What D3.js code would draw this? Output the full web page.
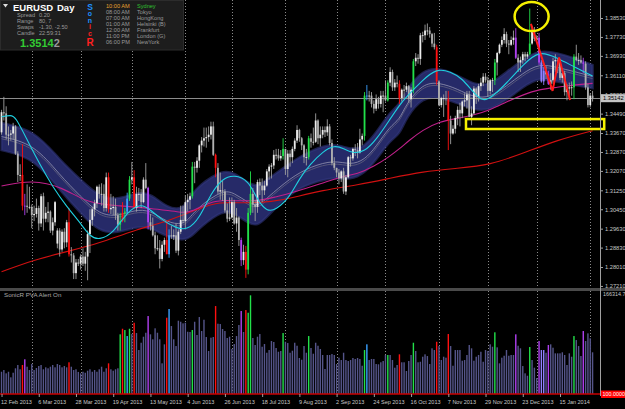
<!DOCTYPE html>
<html><head><meta charset="utf-8">
<script src="https://cdn.jsdelivr.net/npm/d3@7"></script>
<style>
html,body{margin:0;padding:0;background:#000;overflow:hidden;}
svg{display:block;}
text{font-family:"Liberation Sans",Arial,sans-serif;}
</style></head><body>
<svg id="c" width="625" height="409"></svg>
<script>
// ---------- DATA (EURUSD, Daily, 12 Feb 2013 - 4 Feb 2014) ----------
const open = [
1.3370,1.3455,1.3450,1.3360,1.3360,1.3365,1.3395,1.3280,1.3190,1.3190,
1.3060,1.3060,1.3055,1.3055,1.3020,1.3025,1.3050,1.2985,1.3100,1.3005,
1.3030,1.3035,1.2955,1.2990,1.2900,1.2955,1.2875,1.2950,1.2905,1.2990,
1.2855,1.2850,1.2775,1.2820,1.2815,1.2845,1.2815,1.2845,1.2940,1.3000,
1.3045,1.3070,1.3140,1.3110,1.3110,1.3050,1.3180,1.3045,1.3050,1.3055,
1.3020,1.2980,1.2995,1.3030,1.3035,1.3090,1.3170,1.3180,1.3050,1.3110,
1.3110,1.3075,1.3170,1.3135,1.2990,1.2975,1.2935,1.2880,1.2880,1.2835,
1.2895,1.2915,1.2855,1.2935,1.2930,1.2935,1.2870,1.2950,1.3000,1.2995,
1.3075,1.3085,1.3100,1.3225,1.3220,1.3250,1.3315,1.3335,1.3345,1.3350,
1.3360,1.3395,1.3275,1.3220,1.3120,1.3125,1.3120,1.3040,1.3005,1.3010,
1.3075,1.2985,1.3010,1.2915,1.2830,1.2865,1.2790,1.3030,1.3110,1.3065,
1.3055,1.3160,1.3145,1.3125,1.3145,1.3205,1.3225,1.3230,1.3275,1.3275,
1.3260,1.3270,1.3300,1.3215,1.3280,1.3265,1.3300,1.3335,1.3380,1.3345,
1.3315,1.3265,1.3265,1.3345,1.3330,1.3330,1.3420,1.3345,1.3360,1.3380,
1.3370,1.3395,1.3325,1.3240,1.3220,1.3200,1.3175,1.3205,1.3120,1.3180,
1.3265,1.3260,1.3300,1.3295,1.3285,1.3340,1.3355,1.3525,1.3525,1.3525,
1.3490,1.3470,1.3510,1.3490,1.3525,1.3525,1.3505,1.3580,1.3625,1.3560,
1.3580,1.3575,1.3515,1.3550,1.3550,1.3565,1.3510,1.3550,1.3670,1.3685,
1.3680,1.3780,1.3780,1.3800,1.3800,1.3785,1.3745,1.3730,1.3585,1.3485,
1.3515,1.3515,1.3510,1.3420,1.3365,1.3385,1.3430,1.3465,1.3450,1.3500,
1.3505,1.3530,1.3435,1.3450,1.3555,1.3520,1.3565,1.3580,1.3605,1.3590,
1.3545,1.3590,1.3590,1.3665,1.3705,1.3740,1.3760,1.3785,1.3745,1.3740,
1.3760,1.3770,1.3685,1.3665,1.3675,1.3700,1.3690,1.3700,1.3745,1.3800,
1.3765,1.3770,1.3665,1.3585,1.3630,1.3615,1.3575,1.3590,1.3670,1.3675,
1.3670,1.3600,1.3620,1.3540,1.3555,1.3560,1.3560,1.3690,1.3675,1.3675,
1.3665,1.3660,1.3560,1.3485,1.3525];
const high = [
1.3465,1.3520,1.3480,1.3395,1.3380,1.3410,1.3400,1.3290,1.3235,1.3320,
1.3110,1.3150,1.3140,1.3065,1.3060,1.3090,1.3060,1.3110,1.3115,1.3055,
1.3075,1.3040,1.3010,1.3080,1.2965,1.2965,1.2960,1.2965,1.3000,1.3050,
1.2885,1.2860,1.2835,1.2835,1.2855,1.2880,1.2865,1.2955,1.3045,1.3055,
1.3085,1.3145,1.3150,1.3155,1.3150,1.3200,1.3200,1.3110,1.3100,1.3090,
1.3030,1.3030,1.3075,1.3050,1.3115,1.3185,1.3245,1.3210,1.3140,1.3135,
1.3130,1.3180,1.3240,1.3140,1.3025,1.3010,1.2950,1.2935,1.2915,1.2910,
1.2925,1.2995,1.2960,1.2975,1.2960,1.2985,1.2960,1.3060,1.3060,1.3105,
1.3110,1.3115,1.3245,1.3245,1.3265,1.3320,1.3350,1.3390,1.3390,1.3395,
1.3415,1.3415,1.3280,1.3240,1.3200,1.3165,1.3130,1.3070,1.3095,1.3095,
1.3085,1.3050,1.3015,1.2925,1.2895,1.2890,1.3050,1.3205,1.3135,1.3085,
1.3170,1.3175,1.3175,1.3165,1.3215,1.3235,1.3240,1.3295,1.3300,1.3300,
1.3295,1.3345,1.3300,1.3295,1.3295,1.3310,1.3345,1.3400,1.3385,1.3350,
1.3320,1.3300,1.3355,1.3365,1.3390,1.3450,1.3425,1.3395,1.3395,1.3395,
1.3425,1.3405,1.3340,1.3265,1.3220,1.3215,1.3210,1.3220,1.3190,1.3270,
1.3275,1.3305,1.3320,1.3325,1.3385,1.3365,1.3540,1.3570,1.3545,1.3540,
1.3505,1.3530,1.3520,1.3545,1.3545,1.3590,1.3590,1.3645,1.3635,1.3595,
1.3610,1.3590,1.3555,1.3570,1.3580,1.3570,1.3560,1.3680,1.3705,1.3700,
1.3790,1.3795,1.3825,1.3830,1.3815,1.3790,1.3790,1.3740,1.3590,1.3520,
1.3530,1.3545,1.3545,1.3440,1.3400,1.3440,1.3480,1.3495,1.3505,1.3535,
1.3545,1.3545,1.3480,1.3565,1.3560,1.3575,1.3600,1.3620,1.3620,1.3605,
1.3595,1.3600,1.3680,1.3710,1.3745,1.3775,1.3810,1.3795,1.3760,1.3775,
1.3800,1.3810,1.3700,1.3690,1.3710,1.3710,1.3710,1.3893,1.3820,1.3815,
1.3780,1.3790,1.3675,1.3645,1.3650,1.3630,1.3620,1.3685,1.3700,1.3680,
1.3680,1.3630,1.3630,1.3575,1.3580,1.3585,1.3700,1.3740,1.3705,1.3695,
1.3685,1.3670,1.3575,1.3535,1.3545];
const low = [
1.3360,1.3420,1.3340,1.3315,1.3335,1.3340,1.3275,1.3160,1.3165,1.3040,
1.3020,1.3030,1.3045,1.2965,1.2995,1.3010,1.2955,1.2970,1.2955,1.2990,
1.2990,1.2945,1.2935,1.2975,1.2880,1.2845,1.2865,1.2880,1.2885,1.2845,
1.2820,1.2750,1.2750,1.2805,1.2790,1.2805,1.2785,1.2745,1.2860,1.2975,
1.3015,1.3050,1.3090,1.3060,1.3035,1.3035,1.3030,1.3025,1.3020,1.3000,
1.2955,1.2955,1.2990,1.2990,1.3025,1.3080,1.3150,1.3045,1.3035,1.3080,
1.3050,1.3070,1.3130,1.2960,1.2955,1.2930,1.2855,1.2870,1.2795,1.2825,
1.2865,1.2855,1.2840,1.2920,1.2915,1.2860,1.2850,1.2940,1.2985,1.2960,
1.3035,1.3045,1.3090,1.3155,1.3200,1.3220,1.3285,1.3310,1.3305,1.3330,
1.3340,1.3270,1.3180,1.3110,1.3085,1.3080,1.3030,1.2990,1.2995,1.3005,
1.2980,1.2950,1.2890,1.2805,1.2810,1.2755,1.2770,1.3020,1.3030,1.2995,
1.3030,1.3105,1.3075,1.3105,1.3140,1.3170,1.3175,1.3215,1.3255,1.3250,
1.3250,1.3255,1.3190,1.3180,1.3225,1.3240,1.3290,1.3325,1.3330,1.3295,
1.3240,1.3230,1.3255,1.3305,1.3315,1.3325,1.3320,1.3310,1.3345,1.3350,
1.3355,1.3315,1.3230,1.3210,1.3180,1.3150,1.3160,1.3110,1.3105,1.3175,
1.3225,1.3250,1.3270,1.3260,1.3280,1.3315,1.3335,1.3505,1.3500,1.3475,
1.3450,1.3460,1.3470,1.3475,1.3455,1.3500,1.3500,1.3565,1.3545,1.3545,
1.3560,1.3490,1.3500,1.3515,1.3540,1.3495,1.3475,1.3535,1.3650,1.3660,
1.3655,1.3750,1.3760,1.3780,1.3770,1.3730,1.3720,1.3570,1.3480,1.3475,
1.3435,1.3485,1.3295,1.3320,1.3360,1.3365,1.3400,1.3395,1.3430,1.3480,
1.3470,1.3435,1.3400,1.3445,1.3490,1.3500,1.3545,1.3565,1.3580,1.3520,
1.3530,1.3540,1.3570,1.3610,1.3700,1.3730,1.3745,1.3730,1.3700,1.3735,
1.3740,1.3680,1.3625,1.3625,1.3660,1.3670,1.3680,1.3695,1.3740,1.3755,
1.3755,1.3655,1.3580,1.3570,1.3595,1.3570,1.3550,1.3575,1.3625,1.3620,
1.3590,1.3580,1.3525,1.3505,1.3510,1.3525,1.3510,1.3670,1.3655,1.3660,
1.3620,1.3550,1.3475,1.3475,1.3500];
const close = [
1.3455,1.3450,1.3360,1.3360,1.3365,1.3395,1.3280,1.3190,1.3190,1.3060,
1.3060,1.3055,1.3055,1.3020,1.3025,1.3050,1.2985,1.3100,1.3005,1.3030,
1.3035,1.2955,1.2990,1.3075,1.2955,1.2875,1.2950,1.2905,1.2990,1.2855,
1.2850,1.2775,1.2820,1.2815,1.2845,1.2815,1.2845,1.2940,1.3000,1.3045,
1.3070,1.3140,1.3110,1.3110,1.3050,1.3180,1.3045,1.3050,1.3055,1.3020,
1.2980,1.2995,1.3030,1.3035,1.3090,1.3170,1.3180,1.3050,1.3110,1.3110,
1.3075,1.3170,1.3135,1.2990,1.2975,1.2935,1.2880,1.2880,1.2835,1.2895,
1.2915,1.2855,1.2935,1.2930,1.2935,1.2870,1.2950,1.3000,1.2995,1.3075,
1.3085,1.3100,1.3225,1.3220,1.3250,1.3315,1.3335,1.3345,1.3350,1.3360,
1.3395,1.3275,1.3220,1.3120,1.3125,1.3120,1.3040,1.3005,1.3010,1.3075,
1.2985,1.3010,1.2915,1.2830,1.2865,1.2790,1.3030,1.3110,1.3065,1.3055,
1.3160,1.3145,1.3125,1.3145,1.3205,1.3225,1.3230,1.3275,1.3275,1.3260,
1.3270,1.3300,1.3215,1.3280,1.3265,1.3300,1.3335,1.3380,1.3345,1.3315,
1.3265,1.3265,1.3345,1.3330,1.3330,1.3420,1.3345,1.3360,1.3380,1.3370,
1.3395,1.3325,1.3240,1.3220,1.3200,1.3175,1.3205,1.3120,1.3180,1.3265,
1.3260,1.3300,1.3295,1.3285,1.3340,1.3355,1.3525,1.3525,1.3525,1.3490,
1.3470,1.3510,1.3490,1.3525,1.3525,1.3505,1.3580,1.3625,1.3560,1.3580,
1.3575,1.3515,1.3550,1.3550,1.3565,1.3510,1.3550,1.3670,1.3685,1.3680,
1.3780,1.3780,1.3800,1.3800,1.3785,1.3745,1.3730,1.3585,1.3485,1.3515,
1.3515,1.3510,1.3420,1.3365,1.3385,1.3430,1.3465,1.3450,1.3500,1.3505,
1.3530,1.3435,1.3450,1.3555,1.3520,1.3565,1.3580,1.3605,1.3590,1.3545,
1.3590,1.3590,1.3665,1.3705,1.3740,1.3760,1.3785,1.3745,1.3740,1.3760,
1.3770,1.3685,1.3665,1.3675,1.3700,1.3690,1.3700,1.3745,1.3800,1.3765,
1.3770,1.3665,1.3585,1.3630,1.3615,1.3575,1.3590,1.3670,1.3675,1.3670,
1.3600,1.3620,1.3540,1.3555,1.3560,1.3560,1.3690,1.3675,1.3675,1.3665,
1.3660,1.3560,1.3485,1.3525,1.3514];
const volume = [
36300,39100,33700,36300,27200,34700,41900,47300,40300,47300,
56600,44500,39100,48900,39100,42400,45600,47300,40300,43500,
41900,44500,47300,43500,48900,47300,43500,45600,43500,51700,
44500,39100,40300,36000,33700,36300,34700,38000,40300,36300,
39100,36300,40300,44500,36300,41900,50000,40300,38000,40300,
41900,97300,106400,104300,94500,106400,97800,116200,99400,71700,
83600,93400,99900,127100,97300,89200,107100,99900,89200,50000,
81000,124400,138600,110800,89200,78200,119500,117800,115200,116200,
101500,101100,104300,117800,96200,125500,102700,121100,92900,70100,
91800,92900,143400,114600,114100,106000,102700,91300,93400,73400,
81500,94500,112500,135300,101100,136900,132500,160900,91300,79900,
93400,97800,77100,81500,67300,71700,86400,84800,75000,68900,
70100,99400,85200,83100,67300,70600,83600,78700,58700,55900,
78200,67300,94500,75000,65700,83600,78700,73400,63600,40800,
63600,63600,65200,63600,48900,59200,55400,67300,55400,53800,
55400,58700,57100,58700,57100,46100,71700,81000,55400,57100,
57100,48900,48400,51700,53800,63600,63600,63600,55400,42900,
47300,64700,51700,51700,37500,53800,63600,83600,70100,51700,
52600,60800,64700,61900,48900,74500,71700,85200,78200,55400,
60800,59200,97800,78200,46100,71700,71700,71700,54300,55400,
63600,79900,74500,54300,60800,63600,68900,52600,71700,70100,
81000,77100,100600,76100,50000,59200,62400,71700,62400,63600,
63600,97300,78700,74500,45600,33700,29800,76600,55400,42900,
26100,86400,71700,71700,67300,79900,81000,75500,66300,66300,
66300,68000,63600,47300,66300,60800,94500,88000,78200,61900,
102700,86400,98900,90800,68000];
// PVA colour classes (bar indices)
const redBars = [9,29,46,52,57,71,92,105,171,187,192];
const greenBars = [51,53,55,82,106,107,121,132,156,166,177,212,227,246];
const purpleBars = [10,63,103,221,231,235,250];
const blueBars = [54,72,157];
const lavenderBars = [232,233];

// Dragon band (upper / lower / middle), sampled at bars
const bandBars  = [0,14,25,34,42,50,57,64,71,78,81,85,95,100,106,110,114,124,133,143,150,156,161,167,171,174,181,188,196,203,210,217,224,231,239,246,254];
const bandUpper = [1.3409,1.3380,1.3253,1.3169,1.3097,1.3084,1.3114,1.3114,1.3050,1.3042,1.3097,1.3147,1.3211,1.3198,1.3156,1.3139,1.3169,1.3240,1.3295,1.3325,1.3295,1.3308,1.3367,1.3456,1.3485,1.3549,1.3633,1.3642,1.3612,1.3570,1.3570,1.3625,1.3676,1.3718,1.3705,1.3684,1.3654];
const bandLower = [1.3295,1.3262,1.3126,1.3029,1.2949,1.2945,1.2970,1.2970,1.2928,1.2915,1.2924,1.2966,1.3042,1.3029,1.2987,1.2974,1.3012,1.3114,1.3156,1.3181,1.3169,1.3198,1.3253,1.3338,1.3359,1.3435,1.3519,1.3519,1.3494,1.3464,1.3464,1.3507,1.3561,1.3604,1.3583,1.3570,1.3557];
const bandMid   = [1.3352,1.3321,1.3190,1.3099,1.3023,1.3015,1.3042,1.3042,1.2989,1.2979,1.3011,1.3057,1.3127,1.3114,1.3072,1.3057,1.3091,1.3177,1.3226,1.3253,1.3232,1.3253,1.3310,1.3397,1.3422,1.3492,1.3576,1.3581,1.3553,1.3517,1.3517,1.3566,1.3619,1.3661,1.3644,1.3627,1.3606];
// Cyan fast MA
const cyanBars = [0,4,6,11,17,22,28,34,38,42,48,54,60,64,69,75,80,85,90,95,100,106,110,114,118,124,128,133,138,143,147,151,156,161,167,171,174,181,187,193,198,203,207,211,217,224,231,239,246,254];
const cyanVals = [1.3436,1.3443,1.3436,1.3338,1.3225,1.3140,1.3056,1.2986,1.2929,1.2915,1.2943,1.3035,1.3070,1.3042,1.3000,1.2965,1.2957,1.3006,1.3112,1.3176,1.3190,1.3169,1.3084,1.3035,1.3042,1.3098,1.3176,1.3239,1.3288,1.3316,1.3302,1.3281,1.3288,1.3338,1.3426,1.3485,1.3520,1.3591,1.3640,1.3626,1.3598,1.3535,1.3499,1.3521,1.3577,1.3654,1.3718,1.3683,1.3647,1.3608];
// Magenta MA
const magBars = [0,13,26,37,50,64,78,81,90,95,110,118,124,138,146,153,160,167,171,175,181,188,196,203,210,217,224,231,239,246,254];
const magVals = [1.3143,1.3169,1.3140,1.3070,1.3060,1.3050,1.3030,1.3032,1.3077,1.3084,1.3077,1.3098,1.3112,1.3155,1.3183,1.3194,1.3225,1.3270,1.3300,1.3335,1.3380,1.3415,1.3429,1.3443,1.3464,1.3499,1.3528,1.3552,1.3560,1.3570,1.3577];
// Red slow MA
const redMaBars = [0,14,28,42,57,71,85,94,103,117,124,138,153,167,181,196,210,224,239,254];
const redMaVals = [1.2781,1.2831,1.2866,1.2901,1.2957,1.2992,1.3049,1.3077,1.3070,1.3077,1.3091,1.3126,1.3147,1.3176,1.3204,1.3218,1.3232,1.3281,1.3338,1.3377];

// Axes
const priceTicks = [1.3853,1.3773,1.3693,1.3611,1.3529,1.3449,1.3367,1.3287,1.3207,1.3125,1.3045,1.2963,1.2883,1.2801,1.2721];
const dateTickBars = [0,16,32,48,64,80,96,112,128,144,160,176,192,208,224,240];
const dateTickLabels = ["12 Feb 2013","6 Mar 2013","28 Mar 2013","19 Apr 2013","13 May 2013","4 Jun 2013","26 Jun 2013","18 Jul 2013","9 Aug 2013","2 Sep 2013","24 Sep 2013","16 Oct 2013","7 Nov 2013","29 Nov 2013","23 Dec 2013","15 Jan 2014"];
const monthStartBars = [13,34,56,79,99,122,144,165,188,209,230,253];
const bidPrice = 1.35142;
const volumeMax = 166314.7;
const volumeLevel = "100.0000";
// Annotations (bar, price)
const zigzagBars = [227.5,236.8,239.6,244.3];
const zigzagPrices = [1.3828,1.3545,1.3686,1.3507];
const circleBar = 227.8, circlePrice = 1.3859;
const boxBars = [199.6,259.0], boxPrices = [1.3426,1.3384];

// Info panel
const sessionTimes = ["10:00 AM","08:00 AM","07:00 AM","01:00 AM","12:00 AM","11:00 PM","06:00 PM"];
const sessionCities = ["Sydney","Tokyo","HongKong","Helsinki (B)","Frankfurt","London (G)","NewYork"];
const infoKeys = ["Spread","Range","Swaps","Candle"];
const infoVals = ["0.20","80, 7","-1.30, -2.50","22:59:31"];
const sonicLetters = ["S","o","n","i","c","R"];

// ---------- DRAW ----------
const svg = d3.select("#c");
svg.append("rect").attr("width",625).attr("height",409).attr("fill","#000");

const x = d3.scaleLinear().domain([0,254]).range([1.52, 1.52+254*2.327]);
const y = d3.scaleLinear().domain([1.27123,1.39206]).range([288,2]);
const yv = d3.scaleLinear().domain([0,volumeMax]).range([394,292]);

const colorOf = i => redBars.includes(i) ? "#ff1010" : greenBars.includes(i) ? "#22e04a" :
  purpleBars.includes(i) ? "#b040f0" : blueBars.includes(i) ? "#3aa0ff" :
  lavenderBars.includes(i) ? "#9080ff" : null;

const defs = svg.append("defs");
defs.append("clipPath").attr("id","mainClip").append("rect").attr("x",0).attr("y",0).attr("width",600).attr("height",288);
defs.append("clipPath").attr("id","volClip").append("rect").attr("x",0).attr("y",291).attr("width",600).attr("height",104);

// month grid
svg.append("g").selectAll("line").data(monthStartBars).join("line")
  .attr("x1",d=>Math.round(x(d))+0.5).attr("x2",d=>Math.round(x(d))+0.5)
  .attr("y1",0).attr("y2",394).attr("stroke","#8a8a8a").attr("stroke-width",1)
  .attr("stroke-dasharray","1,2");

const main = svg.append("g").attr("clip-path","url(#mainClip)");

// band
const bandData = bandBars.map((b,k)=>({i:b,hi:bandUpper[k],lo:bandLower[k],mid:bandMid[k]}));
main.append("path").datum(bandData)
  .attr("d",d3.area().x(d=>x(d.i)).y0(d=>y(d.lo)).y1(d=>y(d.hi)).curve(d3.curveBasis))
  .attr("fill","#262a68").attr("stroke","#30357c").attr("stroke-width",2.5).attr("stroke-opacity",0.6);
main.append("path").datum(bandData)
  .attr("d",d3.line().x(d=>x(d.i)).y(d=>y(d.mid)).curve(d3.curveBasis))
  .attr("fill","none").attr("stroke","#5a5a7a").attr("stroke-width",0.9).attr("transform","translate(0,2.2)");
main.append("path").datum(bandData)
  .attr("d",d3.line().x(d=>x(d.i)).y(d=>y(d.mid)).curve(d3.curveBasis))
  .attr("fill","none").attr("stroke","#9494b0").attr("stroke-width",0.8);

// lines
function drawLine(bars, vals, color, w){
  main.append("path").datum(bars.map((b,k)=>[b,vals[k]]))
    .attr("d",d3.line().x(d=>x(d[0])).y(d=>y(d[1])).curve(d3.curveBasis))
    .attr("fill","none").attr("stroke",color).attr("stroke-width",w);
}
drawLine(redMaBars, redMaVals, "#d01010", 1.1);
drawLine(magBars, magVals, "#c0208a", 1.1);

// bid line
main.append("line").attr("x1",0).attr("x2",600).attr("y1",Math.round(y(bidPrice))+0.5).attr("y2",Math.round(y(bidPrice))+0.5)
  .attr("stroke","#8c8c8c").attr("stroke-width",1);

// candles
const idx = d3.range(close.length);
const cg = main.append("g");
cg.selectAll("line").data(idx).join("line")
  .attr("x1",i=>x(i)).attr("x2",i=>x(i)).attr("y1",i=>y(high[i])).attr("y2",i=>y(low[i]))
  .attr("stroke",i=>colorOf(i)||"#a0a0a0").attr("stroke-width",0.9);
cg.selectAll("rect").data(idx).join("rect")
  .attr("x",i=>x(i)-0.9).attr("width",1.8)
  .attr("y",i=>y(Math.max(open[i],close[i])))
  .attr("height",i=>Math.max(0.8,Math.abs(y(open[i])-y(close[i]))))
  .attr("fill",i=>colorOf(i)||(close[i]>=open[i]?"#ececec":"#b0b0b0"));

drawLine(cyanBars, cyanVals, "#1fd0e0", 1.1);

// annotations
main.append("path").datum(zigzagBars.map((b,k)=>[b,zigzagPrices[k]]))
  .attr("d",d3.line().x(d=>x(d[0])).y(d=>y(d[1])))
  .attr("fill","none").attr("stroke","#ff1a1a").attr("stroke-width",2);
svg.append("ellipse").attr("cx",x(circleBar)).attr("cy",y(circlePrice)).attr("rx",17).attr("ry",14.5)
  .attr("fill","none").attr("stroke","#f5f000").attr("stroke-width",2.5);
svg.append("rect").attr("x",x(boxBars[0])).attr("y",y(boxPrices[0]))
  .attr("width",x(boxBars[1])-x(boxBars[0])).attr("height",y(boxPrices[1])-y(boxPrices[0]))
  .attr("fill","none").attr("stroke","#f5f000").attr("stroke-width",2.5);

// separator
svg.append("rect").attr("x",0).attr("y",288).attr("width",625).attr("height",3).attr("fill","#4a4a4a");

// volume
const vg = svg.append("g").attr("clip-path","url(#volClip)");
vg.selectAll("rect").data(idx).join("rect")
  .attr("x",i=>x(i)-0.7).attr("width",1.4)
  .attr("y",i=>yv(volume[i])).attr("height",i=>yv(0)-yv(volume[i]))
  .attr("fill",i=>colorOf(i)||"#55558a");
svg.append("line").attr("x1",0).attr("x2",600).attr("y1",394).attr("y2",394).attr("stroke","#c80000").attr("stroke-width",1.6);
svg.append("text").attr("x",4).attr("y",297).attr("fill","#a8a8a8").attr("font-size",6.2).text("SonicR PVA   Alert On");

// right axis
svg.append("line").attr("x1",600.5).attr("x2",600.5).attr("y1",0).attr("y2",396).attr("stroke","#a0a0a0");
const ya = svg.append("g").attr("transform","translate(600.5,0)")
  .call(d3.axisRight(y).tickValues(priceTicks).tickFormat(d3.format(".5f")).tickSize(2.5).tickPadding(2));
ya.select(".domain").remove();
ya.selectAll("line").attr("stroke","#a0a0a0");
ya.selectAll("text").attr("fill","#c8c8c8").attr("font-size",5.7).attr("font-family",null);

// bid label
const by = y(bidPrice);
svg.append("rect").attr("x",601).attr("y",by-4).attr("width",24).attr("height",8).attr("fill","#c4c4c4");
svg.append("text").attr("x",603).attr("y",by).attr("dy","0.35em").attr("fill","#000").attr("font-size",5.7).text(d3.format(".5f")(bidPrice));

// volume labels
svg.append("text").attr("x",603).attr("y",294.5).attr("dy","0.35em").attr("fill","#c8c8c8").attr("font-size",5.4).text(d3.format(".1f")(volumeMax));
svg.append("rect").attr("x",601).attr("y",390.5).attr("width",24).attr("height",7.5).attr("fill","#ff0000");
svg.append("text").attr("x",602.5).attr("y",394.3).attr("dy","0.35em").attr("fill","#fff").attr("font-size",5.4).text(volumeLevel);

// x axis
const xa = svg.append("g").attr("transform","translate(0,394)")
  .call(d3.axisBottom(x).tickValues(dateTickBars).tickFormat((d,k)=>dateTickLabels[k]).tickSize(3).tickPadding(3));
xa.select(".domain").remove();
xa.selectAll("line").attr("stroke","#a0a0a0");
xa.selectAll("text").attr("fill","#c8c8c8").attr("font-size",5.5).attr("text-anchor","start").attr("dx",-1).attr("font-family",null);

// info panel
const ip = svg.append("g");
ip.append("rect").attr("x",0.5).attr("y",0.5).attr("width",183).attr("height",49.5).attr("fill","#1d1d1d").attr("stroke","#2c2c2c");
ip.append("path").attr("d","M3,4 L8,4 L5.5,7.5 Z").attr("fill","#ddd");
ip.append("text").attr("x",13).attr("y",11).attr("fill","#fff").attr("font-size",9.5).attr("font-weight","bold").text("EURUSD");
ip.append("text").attr("x",57).attr("y",11).attr("fill","#fff").attr("font-size",9.5).attr("font-weight","bold").text("Day");
infoKeys.forEach((k,j)=>{
  ip.append("text").attr("x",17).attr("y",17+j*5.9).attr("fill","#9a9a9a").attr("font-size",5.6).text(k);
  ip.append("text").attr("x",39).attr("y",17+j*5.9).attr("fill","#9a9a9a").attr("font-size",5.6).text(infoVals[j]);
});
const pt = ip.append("text").attr("x",20).attr("y",47).attr("font-size",11).attr("font-weight","bold");
pt.append("tspan").attr("fill","#33cc33").text("1.3514");
pt.append("tspan").attr("fill","#9a9a9a").text("2");
const sonicY = [9.5,16,22.5,29,35.5,46], sonicCol = ["#1e90ff","#1e90ff","#1e90ff","#ff2020","#ff2020","#ff2020"], sonicSize=[8.5,7,7,7,7,10];
sonicLetters.forEach((s,k)=>ip.append("text").attr("x",90).attr("y",sonicY[k]).attr("text-anchor","middle").attr("fill",sonicCol[k])
  .attr("font-size",sonicSize[k]).attr("font-weight","bold").text(s));
sessionTimes.forEach((t,j)=>{
  ip.append("text").attr("x",106).attr("y",7.8+j*6.1).attr("fill",j===0?"#e8a030":"#9a9a9a").attr("font-size",5.6).text(t);
  ip.append("text").attr("x",137).attr("y",7.8+j*6.1).attr("fill",j===0?"#30c030":"#9a9a9a").attr("font-size",5.6).text(sessionCities[j]);
});
</script>
</body></html>
